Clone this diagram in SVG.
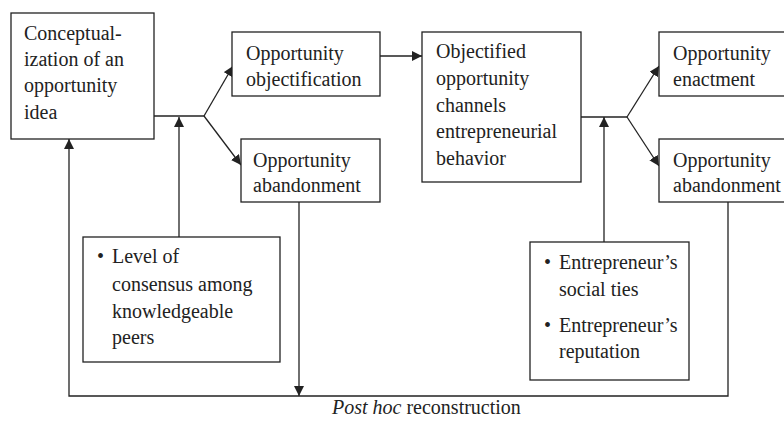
<svg xmlns="http://www.w3.org/2000/svg" width="784" height="422" viewBox="0 0 784 422">
<defs>
<style>
.box{fill:#fff;stroke:#222;stroke-width:1.3}
.t{font-family:"Liberation Serif","Times New Roman",serif;font-size:20px;fill:#222}
.ln{fill:none;stroke:#222;stroke-width:1.3}
</style>
<marker id="ah" viewBox="0 0 10 10" refX="10" refY="5" markerWidth="10" markerHeight="10" markerUnits="userSpaceOnUse" orient="auto">
<path d="M0,0 L10,5 L0,10 z" fill="#222"/>
</marker>
</defs>
<rect width="784" height="422" fill="#fff"/>
<g id="connectors">
<polyline class="ln" points="154,116 204,116"/>
<line class="ln" x1="204" y1="116" x2="233" y2="66" marker-end="url(#ah)"/>
<line class="ln" x1="204" y1="116" x2="241" y2="165" marker-end="url(#ah)"/>
<line class="ln" x1="179" y1="237" x2="179" y2="117" marker-end="url(#ah)"/>
<line class="ln" x1="380" y1="56" x2="422" y2="56" marker-end="url(#ah)"/>
<polyline class="ln" points="581,117 627,117"/>
<line class="ln" x1="627" y1="117" x2="659" y2="66" marker-end="url(#ah)"/>
<line class="ln" x1="627" y1="117" x2="659" y2="166" marker-end="url(#ah)"/>
<line class="ln" x1="604" y1="242" x2="604" y2="117" marker-end="url(#ah)"/>
<line class="ln" x1="299" y1="202" x2="299" y2="396" marker-end="url(#ah)"/>
<polyline class="ln" points="728,202 728,396 69,396 69,139" marker-end="url(#ah)"/>
</g>
<g id="conceptualization">
<rect class="box" x="11" y="13" width="143" height="126"/>
<text class="t" x="24" y="40">Conceptual-</text>
<text class="t" x="24" y="66">ization of an</text>
<text class="t" x="24" y="92">opportunity</text>
<text class="t" x="24" y="119">idea</text>
</g>
<g id="objectification">
<rect class="box" x="232" y="32" width="148" height="64"/>
<text class="t" x="246" y="60">Opportunity</text>
<text class="t" x="246" y="86">objectification</text>
</g>
<g id="abandonment1">
<rect class="box" x="241" y="139" width="139" height="63"/>
<text class="t" x="253" y="167">Opportunity</text>
<text class="t" x="253" y="192">abandonment</text>
</g>
<g id="consensus">
<rect class="box" x="83" y="237" width="197" height="125"/>
<text class="t" x="97" y="263">•</text>
<text class="t" x="112" y="263">Level of</text>
<text class="t" x="112" y="291">consensus among</text>
<text class="t" x="112" y="318">knowledgeable</text>
<text class="t" x="112" y="344">peers</text>
</g>
<g id="objectified">
<rect class="box" x="422" y="32" width="159" height="150"/>
<text class="t" x="436" y="58">Objectified</text>
<text class="t" x="436" y="85">opportunity</text>
<text class="t" x="436" y="112">channels</text>
<text class="t" x="436" y="138">entrepreneurial</text>
<text class="t" x="436" y="165">behavior</text>
</g>
<g id="enactment">
<rect class="box" x="659" y="32" width="130" height="64"/>
<text class="t" x="673" y="60">Opportunity</text>
<text class="t" x="673" y="86">enactment</text>
</g>
<g id="abandonment2">
<rect class="box" x="659" y="139" width="130" height="63"/>
<text class="t" x="673" y="167">Opportunity</text>
<text class="t" x="673" y="192">abandonment</text>
</g>
<g id="entrepreneur">
<rect class="box" x="530" y="242" width="159" height="138"/>
<text class="t" x="544" y="269">•</text>
<text class="t" x="559" y="269">Entrepreneur’s</text>
<text class="t" x="559" y="296">social ties</text>
<text class="t" x="544" y="332">•</text>
<text class="t" x="559" y="332">Entrepreneur’s</text>
<text class="t" x="559" y="358">reputation</text>
</g>
<g id="label">
<text class="t" x="332" y="414"><tspan font-style="italic">Post hoc</tspan> reconstruction</text>
</g>
</svg>
